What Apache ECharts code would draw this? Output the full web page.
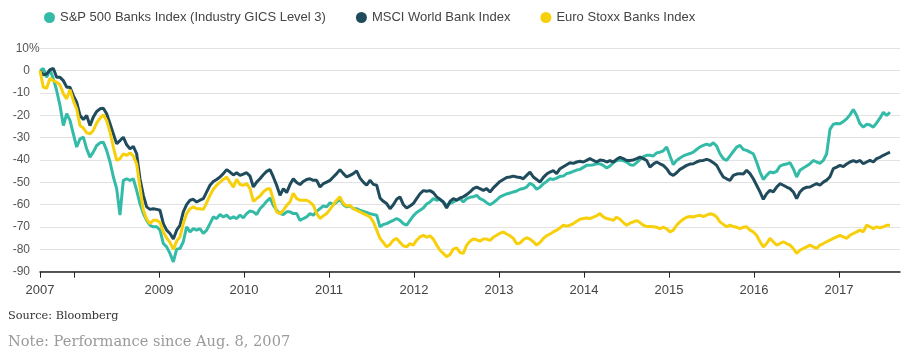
<!DOCTYPE html>
<html>
<head>
<meta charset="utf-8">
<script src="https://cdn.jsdelivr.net/npm/echarts@6/dist/echarts.min.js"></script>
<style>
html,body{margin:0;padding:0;background:#fff;}
#chart{width:906px;height:357px;}
</style>
</head>
<body>
<div id="chart"></div>
<script>
// Decimal years (roughly every two weeks from Aug 8, 2007)
var dates = [
2007.600,2007.639,2007.678,2007.718,2007.757,2007.796,2007.835,2007.875,2007.914,2007.953,
2007.992,2008.031,2008.071,2008.110,2008.149,2008.188,2008.227,2008.267,2008.306,2008.345,
2008.384,2008.424,2008.463,2008.502,2008.541,2008.580,2008.620,2008.659,2008.698,2008.737,
2008.776,2008.816,2008.855,2008.894,2008.933,2008.973,2009.012,2009.051,2009.090,2009.129,
2009.169,2009.208,2009.247,2009.286,2009.325,2009.365,2009.404,2009.443,2009.482,2009.522,
2009.561,
2009.600,2009.639,2009.678,2009.718,2009.757,2009.796,2009.835,2009.875,2009.914,2009.953,
2009.992,2010.031,2010.071,2010.110,2010.149,2010.188,2010.227,2010.267,2010.306,2010.345,
2010.384,2010.424,2010.463,2010.502,2010.541,2010.580,2010.620,2010.659,2010.698,2010.737,
2010.776,2010.816,2010.855,2010.894,2010.933,2010.973,2011.012,2011.051,2011.090,2011.129,
2011.169,2011.208,2011.247,2011.286,2011.325,2011.365,2011.404,2011.443,2011.482,2011.522,
2011.561,
2011.600,2011.639,2011.678,2011.718,2011.757,2011.796,2011.835,2011.875,2011.914,2011.953,
2011.992,2012.031,2012.071,2012.110,2012.149,2012.188,2012.227,2012.267,2012.306,2012.345,
2012.384,2012.424,2012.463,2012.502,2012.541,2012.580,2012.620,2012.659,2012.698,2012.737,
2012.776,2012.816,2012.855,2012.894,2012.933,2012.973,2013.012,2013.051,2013.090,2013.129,
2013.169,2013.208,2013.247,2013.286,2013.325,2013.365,2013.404,2013.443,2013.482,2013.522,
2013.561,
2013.600,2013.639,2013.678,2013.718,2013.757,2013.796,2013.835,2013.875,2013.914,2013.953,
2013.992,2014.031,2014.071,2014.110,2014.149,2014.188,2014.227,2014.267,2014.306,2014.345,
2014.384,2014.424,2014.463,2014.502,2014.541,2014.580,2014.620,2014.659,2014.698,2014.737,
2014.776,2014.816,2014.855,2014.894,2014.933,2014.973,2015.012,2015.051,2015.090,2015.129,
2015.169,2015.208,2015.247,2015.286,2015.325,2015.365,2015.404,2015.443,2015.482,2015.522,
2015.561,
2015.600,2015.639,2015.678,2015.718,2015.757,2015.796,2015.835,2015.875,2015.914,2015.953,
2015.992,2016.031,2016.071,2016.110,2016.149,2016.188,2016.227,2016.267,2016.306,2016.345,
2016.384,2016.424,2016.463,2016.502,2016.541,2016.580,2016.620,2016.659,2016.698,2016.737,
2016.776,2016.816,2016.855,2016.894,2016.933,2016.973,2017.012,2017.051,2017.090,2017.129,
2017.169,2017.208,2017.247,2017.286,2017.325,2017.365,2017.404,2017.443,2017.482,2017.522,
2017.561,
2017.600
];

var sp500Banks = [
0,1.0,-3.0,0.4,-3.7,-8.9,-15.6,-24.6,-19.3,-22.3,
-28.3,-34.2,-30.5,-29.8,-35.0,-38.7,-36.5,-33.5,-32.3,-32.0,
-35.7,-40.9,-47.6,-52.8,-64.7,-49.1,-48.4,-49.1,-48.4,-53.6,
-59.5,-64.0,-67.0,-69.2,-69.9,-69.9,-71.4,-77.4,-78.9,-81.8,
-85.6,-79.9,
-79.6,-76.6,-69.9,-72.2,-70.7,-71.4,-70.7,-72.9,-71.4,-68.5,
-65.5,-66.2,-64.4,-65.5,-64.7,-66.2,-65.5,-66.2,-64.7,-65.9,
-64.0,-62.8,-63.2,-64.4,-61.8,-60.3,-58.5,-57.0,-60.3,-62.5,
-64.0,-64.4,-63.2,-63.2,-64.0,-64.0,-67.0,-66.2,-65.5,-64.0,
-64.7,-63.0,
-61.8,-60.6,-61.0,-59.1,-60.0,-58.8,-57.6,-60.0,-61.0,-60.6,
-61.8,-61.8,-62.5,-63.0,-63.5,-64.0,-64.4,-64.7,-69.9,-68.9,
-68.5,-67.7,-67.0,-66.2,-67.0,-68.5,-69.2,-67.0,-65.0,-63.5,
-62.5,-61.5,-59.7,-58.8,-57.3,-58.0,-57.6,-58.8,-60.3,-59.4,
-58.8,-58.0,-57.3,
-58.8,-57.3,-56.7,-56.5,-55.8,-57.3,-58.0,-59.1,-60.0,-59.1,
-57.9,-56.5,-55.8,-55.2,-54.8,-54.3,-53.9,-53.1,-52.8,-52.1,
-50.4,-51.3,-53.1,-52.2,-50.6,-49.6,-48.4,-48.7,-48.1,-47.3,
-47.2,-46.1,-45.7,-45.1,-44.5,-44.2,-43.3,-42.4,-42.4,-42.1,
-41.7,-41.7,
-42.4,-43.6,-42.7,-41.2,-40.2,-40.0,-40.3,-40.9,-42.1,-42.4,
-41.2,-39.7,-38.5,-37.9,-37.9,-38.2,-36.8,-36.5,-35.9,-34.2,
-38.2,-42.1,-40.2,-39.1,-38.2,-37.6,-37.1,-36.5,-35.3,-34.1,
-33.5,-32.9,-33.5,-32.3,-33.8,-37.2,-39.4,-40.2,-38.2,-36.2,
-34.2,-33.5,-35.3,
-35.7,-36.5,-37.2,-40.9,-45.4,-48.7,-46.9,-45.4,-45.7,-45.1,
-42.7,-42.1,-41.8,-41.2,-43.9,-47.6,-44.6,-43.6,-42.7,-41.7,
-40.2,-40.9,-41.5,-40.2,-37.2,-26.3,-24.0,-23.7,-23.8,-22.8,
-21.6,-19.8,-17.4,-20.1,-23.8,-25.3,-24.0,-24.3,-25.3,-23.4,
-21.3,-18.6,-20.1,-18.6
];

var msciWorldBank = [
0,-1.9,-1.5,0.4,1.0,-3.0,-3.0,-4.5,-7.4,-7.4,
-11.2,-14.1,-20.1,-21.9,-20.1,-24.6,-20.8,-18.3,-17.1,-16.8,
-19.3,-23.8,-28.3,-32.7,-31.3,-29.8,-33.2,-35.0,-33.9,-37.2,
-48.4,-55.8,-61.0,-62.1,-61.8,-62.1,-62.5,-68.5,-71.4,-72.9,
-75.4,-71.4,
-69.2,-63.2,-60.0,-58.0,-57.6,-58.8,-58.0,-57.3,-54.3,-51.3,
-49.6,-48.7,-47.6,-46.1,-44.3,-45.4,-46.7,-45.7,-46.9,-46.3,
-45.7,-47.2,-52.1,-49.9,-48.4,-46.6,-45.1,-44.3,-47.6,-51.3,
-55.8,-52.8,-54.6,-51.0,-48.4,-50.1,-51.0,-49.6,-48.7,-48.4,
-49.1,-49.1,
-52.1,-50.6,-49.9,-49.1,-47.6,-46.1,-44.3,-46.1,-47.6,-46.9,
-46.1,-44.9,-48.1,-49.9,-51.3,-49.1,-50.9,-51.3,-57.0,-58.5,
-59.5,-61.8,-60.0,-57.6,-56.5,-60.0,-61.5,-60.6,-59.5,-57.3,
-55.1,-53.7,-54.0,-53.7,-54.6,-56.5,-57.6,-58.8,-61.5,-58.5,
-57.3,-58.0,-57.0,
-56.5,-55.5,-54.3,-52.8,-52.1,-52.8,-53.6,-52.8,-54.3,-52.5,
-51.0,-49.6,-48.7,-47.8,-47.6,-47.2,-47.6,-47.8,-48.4,-46.9,
-45.4,-47.6,-48.7,-49.9,-47.8,-46.3,-45.4,-44.8,-46.1,-43.9,
-43.0,-42.1,-41.2,-41.5,-40.9,-40.6,-40.9,-40.2,-39.4,-40.2,
-40.9,-40.0,
-40.2,-40.9,-40.3,-40.9,-39.7,-38.8,-39.4,-40.2,-40.2,-40.0,
-39.4,-38.7,-39.4,-40.2,-43.2,-41.8,-40.9,-41.7,-42.4,-43.9,
-46.1,-46.9,-45.7,-44.2,-43.3,-42.4,-41.8,-41.7,-40.9,-40.3,
-40.2,-39.7,-40.2,-41.2,-42.4,-45.1,-47.6,-48.4,-49.1,-46.9,
-46.3,-46.1,-46.3,
-44.6,-46.1,-48.4,-51.3,-54.3,-57.6,-55.1,-53.6,-54.3,-52.1,
-50.6,-51.3,-52.1,-52.8,-54.3,-57.3,-54.3,-52.8,-52.2,-52.1,
-51.3,-50.6,-51.3,-49.9,-49.0,-47.5,-43.9,-43.2,-42.4,-43.0,
-41.8,-40.9,-40.3,-40.9,-40.2,-41.7,-40.9,-40.2,-40.9,-39.4,
-38.8,-37.9,-37.2,-36.5
];

var euroStoxxBanks = [
0,-7.4,-7.9,-3.4,-4.5,-5.2,-6.4,-10.4,-12.6,-8.5,
-13.4,-17.1,-24.6,-25.7,-27.8,-28.3,-26.8,-23.4,-21.3,-19.8,
-22.3,-27.5,-34.2,-40.2,-39.4,-37.2,-37.9,-36.8,-38.2,-41.7,
-52.1,-62.5,-66.5,-68.5,-67.0,-67.0,-68.0,-72.2,-74.9,-76.9,
-80.0,-76.3,
-74.4,-68.5,-64.0,-61.8,-61.0,-61.8,-61.8,-62.1,-59.1,-55.8,
-53.1,-51.3,-49.9,-48.7,-47.6,-49.9,-52.1,-48.7,-51.0,-51.3,
-50.6,-52.8,-58.5,-57.3,-56.1,-54.3,-53.1,-52.8,-57.6,-63.2,
-64.0,-62.5,-60.3,-58.8,-54.9,-57.3,-58.0,-58.0,-58.0,-58.8,
-60.3,-64.0,
-66.2,-65.0,-64.0,-62.1,-60.0,-58.0,-56.5,-59.5,-60.6,-60.3,
-61.8,-62.5,-63.2,-64.0,-64.7,-65.5,-67.7,-71.4,-75.1,-76.9,
-78.9,-77.8,-75.9,-75.1,-76.9,-78.4,-78.9,-77.4,-78.1,-75.9,
-74.4,-73.7,-74.6,-73.9,-75.4,-78.1,-80.4,-81.8,-83.3,-82.3,
-79.9,-79.3,-81.4,
-81.8,-78.1,-76.3,-75.4,-75.7,-76.3,-75.4,-75.4,-76.0,-74.6,
-73.7,-72.8,-72.2,-73.1,-73.9,-75.1,-77.5,-77.2,-75.7,-74.8,
-75.4,-76.6,-78.1,-76.9,-75.1,-73.9,-73.1,-72.2,-71.4,-70.4,
-69.2,-69.6,-69.2,-68.5,-67.4,-66.5,-66.2,-66.0,-66.2,-65.6,
-65.0,-64.0,
-65.5,-66.2,-66.5,-67.0,-65.6,-66.5,-68.0,-69.2,-68.3,-67.7,
-67.1,-68.0,-69.2,-69.8,-69.8,-69.9,-70.1,-70.7,-70.1,-70.8,
-72.2,-71.4,-69.2,-67.7,-66.5,-65.6,-65.3,-65.5,-65.0,-64.7,
-65.3,-64.7,-64.1,-64.4,-65.5,-67.7,-68.8,-69.9,-69.2,-69.8,
-70.1,-70.7,-70.1,
-69.9,-71.4,-72.2,-73.7,-76.6,-78.9,-77.4,-75.1,-76.6,-78.1,
-77.4,-76.6,-77.4,-78.1,-79.6,-81.8,-80.4,-79.6,-78.9,-78.1,
-78.9,-79.6,-78.1,-77.4,-76.6,-75.9,-75.1,-74.4,-73.7,-74.4,
-75.1,-73.7,-72.9,-72.2,-71.4,-72.2,-69.2,-69.9,-70.7,-69.9,
-70.4,-69.9,-69.2,-69.2
];

var seriesNames = ['S&P 500 Banks Index (Industry GICS Level 3)', 'MSCI World Bank Index', 'Euro Stoxx Banks Index'];
var seriesColors = ['#34bba7', '#1f4b5c', '#f7cf0a'];
var xTickValues = [2007.6, 2008, 2009, 2010, 2011, 2012, 2013, 2014, 2015, 2016, 2017];
var xLabelValues = [2007.6, 2009, 2010, 2011, 2012, 2013, 2014, 2015, 2016, 2017];
var sourceText = 'Source: Bloomberg';
var noteText = 'Note: Performance since Aug. 8, 2007';

function pairs(vals) {
  return vals.map(function (v, i) { return [dates[i], v]; });
}

var chart = echarts.init(document.getElementById('chart'), null, { renderer: 'canvas' });
var sansFont = 'Liberation Sans, Arial, sans-serif';

chart.setOption({
  animation: false,
  backgroundColor: '#ffffff',
  color: seriesColors,
  title: [
    { text: sourceText, left: 8, top: 311, padding: 0,
      textStyle: { fontFamily: 'DejaVu Serif', fontSize: 11.3, fontWeight: 'normal', color: '#333' } },
    { text: noteText, left: 8, top: 335, padding: 0,
      textStyle: { fontFamily: 'DejaVu Serif', fontSize: 14.6, fontWeight: 'normal', color: '#9a9a9a' } }
  ],
  legend: {
    left: 44, top: 11, padding: 0,
    icon: 'circle', itemWidth: 11, itemHeight: 11, itemGap: 30,
    textStyle: { fontFamily: sansFont, fontSize: 13, color: '#444' },
    data: seriesNames
  },
  grid: { left: 40, right: 6, top: 48.3, bottom: 85.3, containLabel: false },
  xAxis: {
    type: 'value',
    min: 2007.6,
    max: 2017.718,
    axisLine: { show: true, onZero: false, lineStyle: { color: '#222', width: 1.5 } },
    axisTick: { show: true, customValues: xTickValues, length: 6, lineStyle: { color: '#222', width: 1 } },
    axisLabel: {
      customValues: xLabelValues, margin: 12,
      fontFamily: sansFont, fontSize: 13, color: '#444',
      formatter: function (v) { return String(Math.floor(v + 1e-6)); }
    },
    splitLine: { show: false }
  },
  yAxis: {
    type: 'value',
    min: -90, max: 10, interval: 10,
    axisLine: { show: false },
    axisTick: { show: false },
    axisLabel: {
      margin: 10, fontFamily: sansFont, fontSize: 12, color: '#555',
      formatter: function (v) { return v === 10 ? '{n|10}{p|%}' : String(v); },
      rich: {
        n: { align: 'left', fontFamily: sansFont, fontSize: 12, color: '#555' },
        p: { width: 1, align: 'left', fontFamily: sansFont, fontSize: 12, color: '#555' }
      }
    },
    splitLine: { show: true, lineStyle: { color: '#e2e2e2', width: 1 } }
  },
  series: [
    { name: seriesNames[0], type: 'line', data: pairs(sp500Banks), showSymbol: false, lineStyle: { width: 3, color: seriesColors[0] }, itemStyle: { color: seriesColors[0] } },
    { name: seriesNames[1], type: 'line', data: pairs(msciWorldBank), showSymbol: false, lineStyle: { width: 3, color: seriesColors[1] }, itemStyle: { color: seriesColors[1] } },
    { name: seriesNames[2], type: 'line', data: pairs(euroStoxxBanks), showSymbol: false, lineStyle: { width: 3, color: seriesColors[2] }, itemStyle: { color: seriesColors[2] } }
  ]
});
</script>
</body>
</html>
